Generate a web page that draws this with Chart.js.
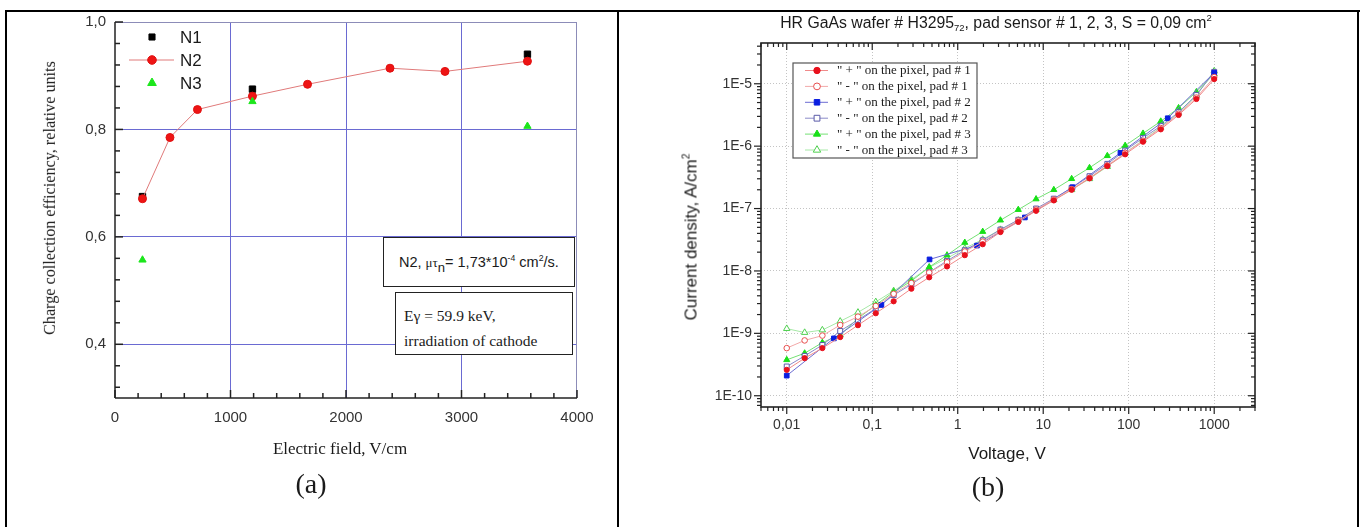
<!DOCTYPE html>
<html>
<head>
<meta charset="utf-8">
<script src="https://cdn.jsdelivr.net/npm/chart.js@4.4.1/dist/chart.umd.min.js"></script>
<style>
  body { margin: 0; width: 1365px; height: 527px; background: #fff; position: relative; overflow: hidden; }
  .rule { position: absolute; background: #000; }
  canvas { position: absolute; }
  .t { position: absolute; white-space: nowrap; color: #1a1a1a; line-height: 1; }
  .serif { font-family: 'Liberation Serif', 'Times New Roman', serif; }
  .sans { font-family: 'Liberation Sans', Arial, sans-serif; }
  .center { transform: translate(-50%, -50%); }
  .vert { transform: translate(-50%, -50%) rotate(-90deg); }
  sup { font-size: 0.6em; vertical-align: 0.7em; line-height: 0; }
  sub { font-size: 0.6em; vertical-align: -0.3em; line-height: 0; }
  .box { position: absolute; border: 1.5px solid #222; background: #fff; box-sizing: border-box; }
</style>
</head>
<body>
<div class="rule" style="left:5px;top:10px;width:1355px;height:2px"></div>
<div class="rule" style="left:5px;top:10px;width:2px;height:517px"></div>
<div class="rule" style="left:617px;top:10px;width:2px;height:517px"></div>
<div class="rule" style="left:1357px;top:10px;width:2px;height:517px"></div>

<canvas id="chartA" width="608" height="523" style="left:8px;top:4px"></canvas>
<canvas id="chartB" width="736" height="515" style="left:620px;top:12px"></canvas>

<div class="t serif vert" style="left:50px;top:198px;font-size:16.2px">Charge collection efficiency, relative units</div>
<div class="t serif center" style="left:340px;top:448px;font-size:17px">Electric field, V/cm</div>
<div class="t serif center" style="left:311px;top:484px;font-size:28px">(a)</div>

<div class="box" style="left:383px;top:237px;width:192px;height:50px">
  <div class="t sans" style="left:15px;top:17px;font-size:14.5px">N2, <span class="serif" style="font-size:13px">μτ</span><sub style="font-size:0.9em;vertical-align:-0.35em">n</sub>= 1,73*10<sup>-4</sup> cm<sup>2</sup>/s.</div>
</div>
<div class="box" style="left:395px;top:292px;width:178px;height:63px">
  <div class="t serif" style="left:8px;top:15px;font-size:15.5px">Eγ = 59.9 keV,</div>
  <div class="t serif" style="left:8px;top:40px;font-size:15.5px">irradiation of cathode</div>
</div>

<div class="t sans center" style="left:996px;top:23px;font-size:15.8px">HR GaAs wafer # H3295<sub>72</sub>, pad sensor # 1, 2, 3, S = 0,09 cm<sup>2</sup></div>
<div class="t sans vert" style="left:691px;top:237px;font-size:17px">Current density, A/cm<sup>2</sup></div>
<div class="t sans center" style="left:1007px;top:453px;font-size:17px">Voltage, V</div>
<div class="t serif center" style="left:988px;top:487px;font-size:28px">(b)</div>

<script>
// (a) charge collection efficiency vs electric field
const fieldN1 = [238, 1190, 3571];
const cceN1 = [0.675, 0.875, 0.940];
const fieldN2 = [238, 476, 714, 1190, 1667, 2381, 2857, 3571];
const cceN2 = [0.671, 0.785, 0.837, 0.862, 0.884, 0.914, 0.908, 0.927];
const fieldN3 = [238, 1190, 3571];
const cceN3 = [0.557, 0.852, 0.806];

const fieldTicks = [0, 1000, 2000, 3000, 4000];
const cceTicks = [0.4, 0.6, 0.8, 1.0];
const cceTickLabels = ['0,4', '0,6', '0,8', '1,0'];

// (b) current density vs voltage
const voltage = [0.01, 0.0162, 0.0261, 0.0422, 0.0681, 0.110, 0.178, 0.287, 0.464, 0.750,
  1.21, 1.96, 3.16, 5.11, 8.25, 13.3, 21.5, 34.8, 56.2, 90.9, 147, 237, 383, 619, 1000];
const pad1Plus = [2.6e-10, 4.0e-10, 5.8e-10, 8.7e-10, 1.35e-9, 2.1e-9, 3.26e-9, 5.2e-9, 7.9e-9, 1.18e-8,
  1.79e-8, 2.68e-8, 4.2e-8, 6.1e-8, 9.2e-8, 1.35e-7, 2.0e-7, 3.05e-7, 4.8e-7, 7.4e-7,
  1.18e-6, 1.86e-6, 3.16e-6, 5.7e-6, 1.19e-5];
const pad1Minus = [5.8e-10, 7.7e-10, 9.2e-10, 1.36e-9, 1.85e-9, 2.74e-9, 4.3e-9, 6.4e-9, 9.4e-9, 1.38e-8,
  2.05e-8, 2.95e-8, 4.4e-8, 6.4e-8, 9.6e-8, 1.4e-7, 2.05e-7, 3.1e-7, 4.9e-7, 7.8e-7,
  1.22e-6, 1.95e-6, 3.3e-6, 6.0e-6, 1.28e-5];
const voltagePad2Plus = [0.01, 0.0356, 0.128, 0.468, 1.68, 6.1, 22, 80, 286, 1000];
const pad2Plus = [2.1e-10, 8.3e-10, 2.85e-9, 1.53e-8, 2.55e-8, 7.2e-8, 2.2e-7, 7.8e-7, 2.8e-6, 1.5e-5];
const pad2Minus = [2.94e-10, 4.35e-10, 6.5e-10, 1.09e-9, 1.64e-9, 2.5e-9, 4.1e-9, 6.1e-9, 9.5e-9, 1.45e-8,
  2.15e-8, 3.1e-8, 4.6e-8, 6.6e-8, 1.0e-7, 1.44e-7, 2.15e-7, 3.3e-7, 5.2e-7, 8.5e-7,
  1.35e-6, 2.1e-6, 3.5e-6, 6.6e-6, 1.55e-5];
const pad3Plus = [3.76e-10, 4.8e-10, 7.1e-10, 9.4e-10, 1.74e-9, 2.84e-9, 4.6e-9, 6.9e-9, 1.15e-8, 1.79e-8,
  2.85e-8, 4.27e-8, 6.5e-8, 9.6e-8, 1.42e-7, 2.0e-7, 3.0e-7, 4.5e-7, 7.0e-7, 1.02e-6,
  1.6e-6, 2.5e-6, 4.1e-6, 7.4e-6, 1.43e-5];
const pad3Minus = [1.19e-9, 1.03e-9, 1.13e-9, 1.56e-9, 2.17e-9, 3.2e-9, 4.8e-9, 7.3e-9, 1.14e-8, 1.6e-8,
  2.3e-8, 3.2e-8, 4.6e-8, 6.5e-8, 9.6e-8, 1.38e-7, 2.0e-7, 3.0e-7, 4.7e-7, 7.8e-7,
  1.25e-6, 2.0e-6, 3.4e-6, 6.5e-6, 1.6e-5];

const voltageTicks = [0.01, 0.1, 1, 10, 100, 1000];
const voltageTickLabels = ['0,01', '0,1', '1', '10', '100', '1000'];
const currentTicks = [1e-10, 1e-9, 1e-8, 1e-7, 1e-6, 1e-5];
const currentTickLabels = ['1E-10', '1E-9', '1E-8', '1E-7', '1E-6', '1E-5'];

const pts = (xs, ys) => xs.map((x, i) => ({ x, y: ys[i] }));
const logIndex = (list, v) => list.findIndex(t => Math.abs(Math.log10(t) - Math.log10(v)) < 1e-6);

function drawMarker(ctx, style, r, x, y) {
  ctx.beginPath();
  if (style === 'rect') {
    const s = r * Math.SQRT1_2;
    ctx.rect(x - s, y - s, 2 * s, 2 * s);
  } else if (style === 'triangle') {
    ctx.moveTo(x, y - r);
    ctx.lineTo(x + r * 0.866, y + r * 0.5);
    ctx.lineTo(x - r * 0.866, y + r * 0.5);
    ctx.closePath();
  } else {
    ctx.arc(x, y, r, 0, Math.PI * 2);
  }
  ctx.fill();
  ctx.stroke();
}

function line(ctx, x1, y1, x2, y2) {
  ctx.beginPath();
  ctx.moveTo(x1, y1);
  ctx.lineTo(x2, y2);
  ctx.stroke();
}

// frame, inward ticks and legend for (a)
const frameA = {
  id: 'frameA',
  beforeDatasetsDraw(chart) {
    const { ctx, chartArea: a, scales: { x, y } } = chart;
    ctx.save();
    ctx.strokeStyle = '#8c8cb8';
    ctx.lineWidth = 1;
    line(ctx, a.left, a.top + 0.5, a.right, a.top + 0.5);
    line(ctx, a.right - 0.5, a.top, a.right - 0.5, a.bottom);
    ctx.strokeStyle = '#222';
    ctx.lineWidth = 1.5;
    line(ctx, a.left, a.top, a.left, a.bottom);
    line(ctx, a.left, a.bottom, a.right, a.bottom);
    x.ticks.forEach(t => {
      const px = x.getPixelForValue(t.value);
      const len = fieldTicks.includes(t.value) ? 8 : 5;
      line(ctx, px, a.bottom, px, a.bottom - len);
    });
    y.ticks.forEach(t => {
      const py = y.getPixelForValue(t.value);
      const len = cceTicks.includes(t.value) ? 8 : 5;
      line(ctx, a.left, py, a.left + len, py);
    });
    ctx.restore();
  },
  afterDraw(chart) {
    const { ctx, chartArea: a } = chart;
    ctx.save();
    chart.data.datasets.forEach((ds, i) => {
      const cx = a.left + 37;
      const cy = a.top + 15 + i * 23;
      if (ds.showLine) {
        ctx.strokeStyle = ds.borderColor;
        ctx.lineWidth = 1;
        line(ctx, cx - 23, cy, cx + 22, cy);
      }
      ctx.fillStyle = ds.pointBackgroundColor;
      ctx.strokeStyle = ds.pointBorderColor;
      ctx.lineWidth = 1;
      drawMarker(ctx, ds.pointStyle, ds.pointStyle === 'triangle' ? 5 : 4.3, cx, cy);
      ctx.fillStyle = '#1a1a1a';
      ctx.font = '17px "Liberation Sans", Arial, sans-serif';
      ctx.textBaseline = 'middle';
      ctx.fillText(ds.label, a.left + 65, cy + 1);
    });
    ctx.restore();
  }
};

new Chart(document.getElementById('chartA'), {
  type: 'scatter',
  data: {
    datasets: [
      { label: 'N1', data: pts(fieldN1, cceN1), showLine: false, pointStyle: 'rect', pointRadius: 4.5,
        pointBackgroundColor: '#000', pointBorderColor: '#000', order: 2 },
      { label: 'N2', data: pts(fieldN2, cceN2), showLine: true, borderColor: '#e07a7a', borderWidth: 1,
        pointStyle: 'circle', pointRadius: 4, pointBackgroundColor: '#ee1414', pointBorderColor: '#e01010', order: 1 },
      { label: 'N3', data: pts(fieldN3, cceN3), showLine: false, pointStyle: 'triangle', pointRadius: 4.2,
        pointBackgroundColor: '#1ce61c', pointBorderColor: '#1ce61c', order: 0 }
    ]
  },
  options: {
    responsive: false,
    animation: false,
    layout: { padding: { left: 0, top: 18, right: 39, bottom: 99 } },
    plugins: { legend: { display: false }, tooltip: { enabled: false } },
    scales: {
      x: {
        type: 'linear', min: 0, max: 4000,
        afterBuildTicks: s => { s.ticks = []; for (let v = 0; v <= 4000; v += 200) s.ticks.push({ value: v }); },
        afterFit: s => { s.height = 30; },
        ticks: {
          autoSkip: false, maxRotation: 0, padding: 11, color: '#333',
          font: { family: 'Liberation Sans', size: 15 },
          callback: v => fieldTicks.includes(v) ? String(v) : ''
        },
        grid: {
          drawTicks: false, lineWidth: 1,
          color: c => (fieldTicks.includes(c.tick.value) && c.tick.value > 0 && c.tick.value < 4000) ? '#6a6ad2' : 'transparent'
        },
        border: { display: false }
      },
      y: {
        type: 'linear', min: 0.3, max: 1.0,
        afterBuildTicks: s => { s.ticks = []; for (let k = 8; k <= 25; k++) s.ticks.push({ value: k * 4 / 100 }); },
        afterFit: s => { s.width = 107; },
        ticks: {
          autoSkip: false, padding: 9, color: '#333',
          font: { family: 'Liberation Sans', size: 15 },
          callback: v => { const i = cceTicks.indexOf(v); return i >= 0 ? cceTickLabels[i] : ''; }
        },
        grid: {
          drawTicks: false, lineWidth: 1,
          color: c => (cceTicks.includes(c.tick.value) && c.tick.value < 1) ? '#6a6ad2' : 'transparent'
        },
        border: { display: false }
      }
    }
  },
  plugins: [frameA]
});

// frame, ticks and boxed legend for (b)
const frameB = {
  id: 'frameB',
  beforeDatasetsDraw(chart) {
    const { ctx, chartArea: a, scales: { x, y } } = chart;
    ctx.save();
    ctx.strokeStyle = '#222';
    ctx.lineWidth = 1.6;
    ctx.strokeRect(a.left, a.top, a.width, a.height);
    ctx.lineWidth = 1.2;
    x.ticks.forEach(t => {
      const px = x.getPixelForValue(t.value);
      const len = logIndex(voltageTicks, t.value) >= 0 ? 7 : 4;
      line(ctx, px, a.bottom, px, a.bottom + len);
      line(ctx, px, a.top, px, a.top + len);
    });
    y.ticks.forEach(t => {
      const py = y.getPixelForValue(t.value);
      const len = logIndex(currentTicks, t.value) >= 0 ? 7 : 4;
      line(ctx, a.left, py, a.left - len, py);
      line(ctx, a.right, py, a.right - len, py);
    });
    ctx.restore();
  },
  afterDraw(chart) {
    const { ctx, chartArea: a } = chart;
    const bx = a.left + 32;
    const by = a.top + 20;
    ctx.save();
    ctx.fillStyle = '#fff';
    ctx.strokeStyle = '#555';
    ctx.lineWidth = 1.2;
    ctx.fillRect(bx, by, 184, 95);
    ctx.strokeRect(bx, by, 184, 95);
    chart.data.datasets.forEach((ds, i) => {
      const cy = by + 7.5 + i * 15.9;
      ctx.strokeStyle = ds.borderColor;
      ctx.lineWidth = 1;
      line(ctx, bx + 12, cy, bx + 35, cy);
      ctx.fillStyle = ds.pointBackgroundColor;
      ctx.strokeStyle = ds.pointBorderColor;
      drawMarker(ctx, ds.pointStyle, ds.pointRadius + 0.6, bx + 24, cy);
      ctx.fillStyle = '#1a1a1a';
      ctx.font = '13px "Liberation Serif", "Times New Roman", serif';
      ctx.textBaseline = 'middle';
      ctx.fillText(ds.label, bx + 44, cy + 0.5);
    });
    ctx.restore();
  }
};

function logTicks(s, lo, hi) {
  s.ticks = [];
  for (let e = Math.floor(Math.log10(lo)); e <= Math.ceil(Math.log10(hi)); e++) {
    for (let m = 1; m <= 9; m++) {
      const v = m * Math.pow(10, e);
      if (v >= lo * 0.999 && v <= hi * 1.001) s.ticks.push({ value: v });
    }
  }
}

new Chart(document.getElementById('chartB'), {
  type: 'scatter',
  data: {
    datasets: [
      { label: '" + " on the pixel, pad # 1', data: pts(voltage, pad1Plus), borderColor: '#f08a8a',
        pointStyle: 'circle', pointRadius: 2.6, pointBackgroundColor: '#e8101c', pointBorderColor: '#e8101c' },
      { label: '" - " on the pixel, pad # 1', data: pts(voltage, pad1Minus), borderColor: '#f2a8a8',
        pointStyle: 'circle', pointRadius: 2.8, pointBackgroundColor: '#fff', pointBorderColor: '#e85050' },
      { label: '" + " on the pixel, pad # 2', data: pts(voltagePad2Plus, pad2Plus), borderColor: '#6c6cd2',
        pointStyle: 'rect', pointRadius: 3.3, pointBackgroundColor: '#0a1ee0', pointBorderColor: '#0a1ee0' },
      { label: '" - " on the pixel, pad # 2', data: pts(voltage, pad2Minus), borderColor: '#8a8ac8',
        pointStyle: 'rect', pointRadius: 3.5, pointBackgroundColor: '#fff', pointBorderColor: '#5a5aa8' },
      { label: '" + " on the pixel, pad # 3', data: pts(voltage, pad3Plus), borderColor: '#74e074',
        pointStyle: 'triangle', pointRadius: 3.5, pointBackgroundColor: '#18e018', pointBorderColor: '#18e018' },
      { label: '" - " on the pixel, pad # 3', data: pts(voltage, pad3Minus), borderColor: '#a6e8a6',
        pointStyle: 'triangle', pointRadius: 3.7, pointBackgroundColor: '#fff', pointBorderColor: '#50d050' }
    ].map(ds => Object.assign({ showLine: true, borderWidth: 1, pointBorderWidth: 1 }, ds))
  },
  options: {
    responsive: false,
    animation: false,
    layout: { padding: { left: 0, top: 31, right: 101, bottom: 90 } },
    plugins: { legend: { display: false }, tooltip: { enabled: false } },
    scales: {
      x: {
        type: 'logarithmic', min: 0.005, max: 3000,
        afterBuildTicks: s => logTicks(s, 0.005, 3000),
        afterFit: s => { s.height = 30; },
        ticks: {
          autoSkip: false, maxRotation: 0, padding: 10, color: '#333',
          font: { family: 'Liberation Sans', size: 14 },
          callback: v => { const i = logIndex(voltageTicks, v); return i >= 0 ? voltageTickLabels[i] : ''; }
        },
        grid: {
          drawTicks: false, lineWidth: 1,
          color: c => logIndex(voltageTicks, c.tick.value) >= 0 ? '#c4c4c4' : 'transparent'
        },
        border: { display: false, dash: [1, 2] }
      },
      y: {
        type: 'logarithmic', min: 6.6e-11, max: 4.5e-5,
        afterBuildTicks: s => logTicks(s, 6.6e-11, 4.5e-5),
        afterFit: s => { s.width = 141; },
        ticks: {
          autoSkip: false, padding: 9, color: '#333',
          font: { family: 'Liberation Sans', size: 14 },
          callback: v => { const i = logIndex(currentTicks, v); return i >= 0 ? currentTickLabels[i] : ''; }
        },
        grid: {
          drawTicks: false, lineWidth: 1,
          color: c => logIndex(currentTicks, c.tick.value) >= 0 ? '#c4c4c4' : 'transparent'
        },
        border: { display: false, dash: [1, 2] }
      }
    }
  },
  plugins: [frameB]
});
</script>
</body>
</html>
